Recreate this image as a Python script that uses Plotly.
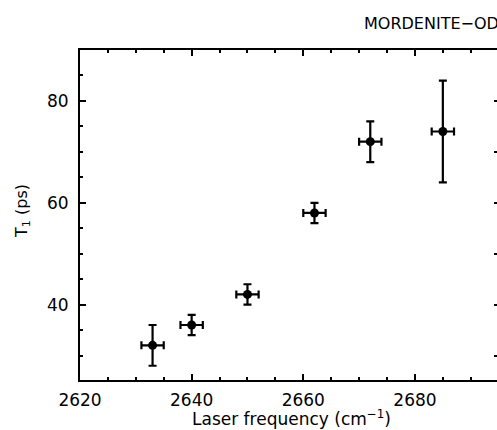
import plotly.graph_objects as go

freq = [2633, 2640, 2650, 2662, 2672, 2685]
t1 = [32, 36, 42, 58, 72, 74]
t1_err = [4, 2, 2, 2, 4, 10]
freq_err = [2, 2, 2, 2, 2, 2]

FONT = "DejaVu Sans"
W, H = 497, 430
L, R, T, B = 80, 0, 50, 50
xr = [2620, 2694.7]
yr = [25.2, 90]

fig = go.Figure()
fig.add_trace(go.Scatter(
    x=freq, y=t1, mode="markers",
    marker=dict(color="black", size=9),
    error_y=dict(type="data", array=t1_err, color="black", thickness=2.2, width=4),
    error_x=dict(type="data", array=freq_err, color="black", thickness=2.2, width=4),
    showlegend=False,
))
# invisible trace for the right-side tick axis
fig.add_trace(go.Scatter(x=[freq[0]], y=[t1[0]], yaxis="y2", mode="markers",
                         marker=dict(opacity=0), showlegend=False, hoverinfo="skip"))

pw = W - L - R
ph = H - T - B

def px_x(px):
    return (px - L) / pw

def px_y(py):
    return (H - B - py) / ph

fig.update_layout(
    width=W, height=H,
    margin=dict(l=L, r=R, t=T, b=B, autoexpand=False),
    paper_bgcolor="white", plot_bgcolor="white",
    font=dict(family=FONT, size=17, color="black"),
    xaxis=dict(
        range=xr, showgrid=False, zeroline=False,
        showline=True, linecolor="black", linewidth=2, mirror="ticks",
        ticks="inside", ticklen=6, tickwidth=1.5, tickcolor="black",
        dtick=20, tick0=2620,
        minor=dict(dtick=5, ticks="inside", ticklen=3, tickcolor="black", tickwidth=1.5),
        ticklabelstandoff=4,
    ),
    yaxis=dict(
        range=yr, showgrid=False, zeroline=False,
        showline=True, linecolor="black", linewidth=2, mirror=False,
        ticks="inside", ticklen=6, tickwidth=1.5, tickcolor="black",
        dtick=20, tick0=0,
        minor=dict(dtick=5, ticks="inside", ticklen=3, tickcolor="black", tickwidth=1.5),
        ticklabelstandoff=6,
    ),
    yaxis2=dict(
        range=yr, overlaying="y", side="right", showgrid=False, zeroline=False,
        showline=False, ticks="inside", ticklen=3, tickwidth=1.5, tickcolor="black",
        dtick=10, tick0=0, showticklabels=False,
    ),
    annotations=[
        dict(
            text="MORDENITE−OD", x=px_x(362), y=px_y(24),
            xref="paper", yref="paper",
            showarrow=False, xanchor="left", yanchor="middle",
            font=dict(family=FONT, size=16, color="black"),
        ),
        dict(
            text="Laser frequency (cm<sup>−1</sup>)", x=px_x(291), y=px_y(418),
            xref="paper", yref="paper",
            showarrow=False, xanchor="center", yanchor="middle",
            font=dict(family=FONT, size=17, color="black"),
        ),
        dict(
            text="T<sub>1</sub> (ps)", x=px_x(22), y=px_y(211),
            xref="paper", yref="paper", textangle=-90,
            showarrow=False, xanchor="center", yanchor="middle",
            font=dict(family=FONT, size=16, color="black"),
        ),
    ],
)

fig.write_html(
    "out.html",
    config={"displayModeBar": False},
    post_script="document.body.style.margin='0';document.body.style.overflow='hidden';",
)
